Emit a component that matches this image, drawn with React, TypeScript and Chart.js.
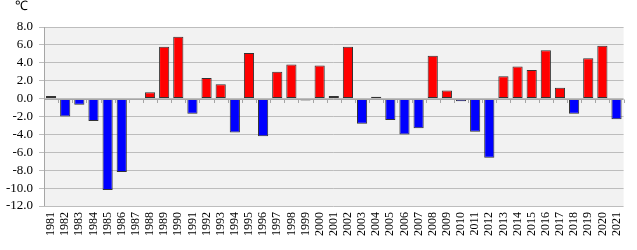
import React, { useEffect, useRef } from "react";
import { Chart, registerables } from "chart.js";

Chart.register(...registerables);

const years: string[] = [
  "1981", "1982", "1983", "1984", "1985", "1986", "1987", "1988", "1989", "1990",
  "1991", "1992", "1993", "1994", "1995", "1996", "1997", "1998", "1999", "2000",
  "2001", "2002", "2003", "2004", "2005", "2006", "2007", "2008", "2009", "2010",
  "2011", "2012", "2013", "2014", "2015", "2016", "2017", "2018", "2019", "2020", "2021",
];

const anomalies: number[] = [
  0.3, -2.0, -0.7, -2.5, -10.2, -8.2, 0.0, 0.7, 5.8, 6.9,
  -1.7, 2.3, 1.6, -3.8, 5.1, -4.2, 3.0, 3.8, -0.2, 3.7,
  0.3, 5.8, -2.8, 0.2, -2.4, -4.0, -3.3, 4.8, 0.9, -0.3,
  -3.7, -6.6, 2.5, 3.6, 3.2, 5.4, 1.2, -1.7, 4.5, 5.9, -2.3,
];

const yMin = -12;
const yMax = 8;
const yStep = 2;
const unitLabel = "℃";

const FONT = '"Liberation Serif", Tinos, "Times New Roman", serif';

export default function App() {
  const ref = useRef<HTMLCanvasElement | null>(null);

  useEffect(() => {
    const canvas = ref.current;
    if (!canvas) return;

    const bgPlugin = {
      id: "plotBg",
      beforeDraw(c: any) {
        const { ctx, chartArea } = c;
        ctx.save();
        ctx.fillStyle = "#f2f2f2";
        ctx.fillRect(chartArea.left, chartArea.top, chartArea.right - chartArea.left, chartArea.bottom - chartArea.top);
        ctx.restore();
      },
      afterDraw(c: any) {
        const { ctx, chartArea, scales } = c;
        const y0 = Math.round(scales.y.getPixelForValue(0)) + 0.5;
        const n = years.length;
        const w = (chartArea.right - chartArea.left) / n;
        ctx.save();
        ctx.strokeStyle = "#a6a6a6";
        ctx.lineWidth = 1;
        ctx.beginPath();
        ctx.moveTo(chartArea.left, y0);
        ctx.lineTo(chartArea.right, y0);
        for (let i = 0; i <= n; i++) {
          const x = Math.round(chartArea.left + i * w) + 0.5;
          ctx.moveTo(x, y0);
          ctx.lineTo(x, y0 + 3.5);
        }
        ctx.moveTo(Math.round(chartArea.left) + 0.5, chartArea.top);
        ctx.lineTo(Math.round(chartArea.left) + 0.5, chartArea.bottom);
        ctx.stroke();
        ctx.fillStyle = "#000";
        ctx.font = `13px ${FONT}`;
        ctx.textAlign = "left";
        ctx.textBaseline = "middle";
        ctx.fillText(unitLabel, 15, 7);
        ctx.restore();
      },
    };

    const chart = new Chart(canvas, {
      type: "bar",
      data: {
        labels: years,
        datasets: [
          {
            data: anomalies,
            backgroundColor: anomalies.map((v) => (v >= 0 ? "#ff0000" : "#0000ff")),
            borderColor: "#333333",
            borderWidth: 1,
            borderSkipped: false,
            categoryPercentage: 1,
            barPercentage: 0.72,
          },
        ],
      },
      options: {
        responsive: false,
        animation: false,
        layout: { padding: { top: 27, right: 7, left: 0, bottom: 0 } },
        plugins: {
          legend: { display: false },
          tooltip: { enabled: false },
        },
        scales: {
          x: {
            grid: { display: false, drawTicks: false },
            border: { display: false },
            ticks: {
              minRotation: 90,
              maxRotation: 90,
              autoSkip: false,
              padding: 6,
              color: "#000",
              font: { family: FONT, size: 12 },
            },
            afterFit(scale: any) {
              scale.height = 44;
            },
          },
          y: {
            min: yMin,
            max: yMax,
            grid: { color: "#bdbdbd", lineWidth: 1, tickLength: 5 },
            border: { display: false },
            ticks: {
              stepSize: yStep,
              autoSkip: false,
              padding: 6,
              color: "#000",
              font: { family: FONT, size: 13 },
              callback: (v: any) => Number(v).toFixed(1),
            },
            afterFit(scale: any) {
              scale.width = 44;
            },
          },
        },
      },
      plugins: [bgPlugin],
    });

    return () => chart.destroy();
  }, []);

  return (
    <div style={{ position: "absolute", left: 0, top: 0, width: 637, height: 250, background: "#fff" }}>
      <canvas ref={ref} width={637} height={250} style={{ width: 637, height: 250 }} />
    </div>
  );
}
